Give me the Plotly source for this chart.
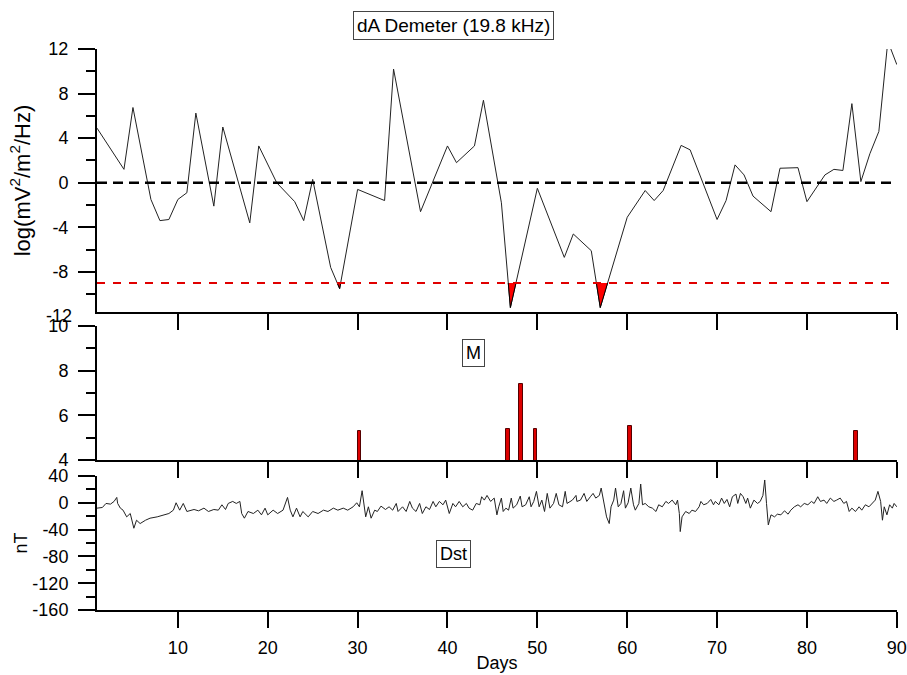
import plotly.graph_objects as go

# ---------------- data ----------------
da_days = [1, 4, 5, 7, 8, 9, 10, 11, 12, 14, 15, 18, 19, 21, 23, 24, 25, 27, 28, 30,
           33, 34, 37, 40, 41, 43, 44, 46, 47, 50, 53, 54, 56, 57, 60, 62, 63, 64, 66, 67,
           70, 71, 72, 73, 74, 76, 77, 79, 80, 82, 83, 84, 85, 86, 87, 88, 89, 90]
da_vals = [4.9, 1.2, 6.75, -1.5, -3.4, -3.3, -1.5, -0.9, 6.25, -2.1, 5.0, -3.6, 3.3, 0.0, -1.7, -3.4, 0.3, -7.6, -9.5, -0.6,
           -1.6, 10.2, -2.6, 3.3, 1.8, 3.3, 7.4, -1.8, -11.2, -0.5, -6.7, -4.6, -6.1, -11.2, -3.1, -0.7, -1.6, -0.7, 3.35, 2.95,
           -3.3, -1.6, 1.6, 0.7, -1.2, -2.6, 1.3, 1.35, -1.7, 0.7, 1.2, 1.1, 7.1, 0.1, 2.6, 4.6, 12.7, 10.6]
zero_level = 0
threshold = -9

m_days = [30.2, 46.7, 48.2, 49.8, 60.3, 85.5]
m_vals = [5.3, 5.4, 7.4, 5.4, 5.5, 5.3]

dst_days = [1.0, 1.6, 2.0, 2.5, 2.9, 3.2, 3.3, 3.6, 3.9, 4.3, 4.7, 5.1, 5.4, 5.8, 6.4, 6.9, 7.7, 8.4, 9.0, 9.5,
            9.8, 10.2, 10.6, 11.0, 11.8, 12.3, 12.9, 13.4, 14.0, 14.5, 14.9, 15.3, 15.6, 16.1, 16.5, 16.9, 17.1, 17.4, 17.8, 18.4,
            18.9, 19.3, 19.7, 20.0, 20.6, 21.1, 21.7, 22.2, 22.5, 22.8, 23.2, 23.6, 23.9, 24.5, 25.0, 25.6, 26.2, 26.7, 27.3, 27.8,
            28.4, 28.9, 29.5, 29.9, 30.2, 30.5, 30.7, 30.9, 31.2, 31.5, 31.9, 32.2, 32.6, 33.1, 33.5, 33.9, 34.3, 34.5, 35.0, 35.4,
            35.8, 36.1, 36.5, 36.9, 37.2, 37.6, 38.0, 38.4, 38.7, 39.1, 39.5, 39.8, 40.2, 40.6, 40.9, 41.3, 41.7, 42.1, 42.4, 42.8,
            43.2, 43.6, 43.8, 44.1, 44.4, 44.8, 45.2, 45.5, 45.7, 46.0, 46.2, 46.5, 46.8, 47.1, 47.3, 47.7, 48.1, 48.3, 48.7, 49.1,
            49.3, 49.6, 49.9, 50.2, 50.5, 50.8, 51.1, 51.4, 51.8, 52.1, 52.4, 52.8, 53.1, 53.3, 53.9, 54.3, 54.4, 54.8, 55.2, 55.5,
            55.9, 56.2, 56.5, 56.9, 57.1, 57.4, 57.7, 58.0, 58.2, 58.5, 58.7, 59.0, 59.3, 59.6, 59.8, 60.1, 60.4, 60.7, 60.9, 61.3,
            61.5, 61.7, 62.0, 62.4, 62.8, 63.2, 63.5, 63.9, 64.3, 64.6, 65.0, 65.4, 65.6, 65.8, 65.9, 66.1, 66.5, 66.9, 67.2, 67.6,
            68.0, 68.2, 68.5, 68.9, 69.3, 69.6, 69.8, 70.2, 70.5, 70.8, 71.1, 71.4, 71.7, 72.1, 72.3, 72.6, 72.9, 73.2, 73.4, 73.7,
            74.1, 74.5, 74.8, 75.1, 75.3, 75.5, 75.7, 76.0, 76.4, 76.7, 77.1, 77.5, 77.9, 78.2, 78.6, 79.0, 79.3, 79.7, 80.1, 80.5,
            80.8, 81.2, 81.5, 81.9, 82.2, 82.6, 83.0, 83.3, 83.7, 84.1, 84.4, 84.7, 85.0, 85.4, 85.8, 86.1, 86.5, 86.9, 87.2, 87.6,
            87.9, 88.2, 88.4, 88.6, 88.9, 89.2, 89.5, 89.7, 90.0]
dst_vals = [-8, -7, -1, -2, 2, 8, -1, -8, -11, -21, -16, -38, -26, -31, -26, -23, -21, -18, -16, -11,
            0, -11, -1, -13, -10, -12, -8, -13, -10, -11, -3, -10, -1, 2, -1, 2, -16, -23, -13, -16,
            -11, -18, -8, -18, -11, -16, -11, 8, -11, -21, -8, -21, -13, -21, -13, -16, -11, -13, -8, -11,
            -8, -11, -6, 0, -6, 18, -1, -21, -6, -23, -11, -13, -5, -10, -6, -11, -1, -13, -6, -13,
            2, -8, -13, -1, -16, -6, -10, 2, -6, 2, -3, 4, -16, -1, -6, 2, -6, -1, -8, -11,
            -1, -3, 9, 4, 11, 2, 7, -18, -6, 7, -13, -8, -11, 7, -8, -3, 10, -6, -3, 9,
            -6, 2, 17, -6, 4, -13, 14, -8, -1, 14, -3, -6, 17, -1, 4, 11, 2, 4, 14, 2,
            9, 14, 7, 11, 22, -1, -21, -31, -6, 4, 22, -6, -1, 18, -8, 0, 22, -3, -11, -1,
            28, -3, -1, -6, -8, -13, -3, -6, 2, -1, 4, -3, 4, -16, -43, -21, -13, -16, -11, -13,
            -6, 2, -3, -1, 5, -3, 2, -3, 7, -1, 5, -6, 9, 13, -1, 14, 9, -1, 7, -8,
            4, -1, 2, 11, 34, -1, -33, -18, -21, -17, -18, -12, -17, -11, -6, -3, -6, -1, -3, 2,
            -1, 9, 2, 4, -1, 7, 2, 4, 7, -1, 2, -13, -8, -13, -6, -11, -3, -6, -1, 4,
            17, 2, -26, -6, -18, -3, -8, -1, -6]

x_range = [1, 90.02]
x_ticks = [10, 20, 30, 40, 50, 60, 70, 80, 90]
da_range = [-11.6, 12]
da_ticks = [12, 8, 4, 0, -4, -8]
da_low_label = -12
m_range = [4, 10]
m_ticks = [10, 8, 6, 4]
dst_range = [-160, 40]
dst_ticks = [40, 0, -40, -80, -120, -160]

FONT = "Liberation Sans, Arial, sans-serif"

# panel domains
top_dom = [0.5312, 1.0]
mid_dom = [0.2674, 0.5062]
bot_dom = [0.0, 0.2389]


def top_frac(v):
    return top_dom[0] + (top_dom[1] - top_dom[0]) * (v - da_range[0]) / (da_range[1] - da_range[0])


clip_top = top_frac(threshold)

fig = go.Figure()

# red fill below threshold (clipped subplot covering only values below threshold)
fig.add_trace(go.Scatter(x=da_days, y=da_vals, mode="lines", fill="tozeroy",
                         fillcolor="#ff0000", line=dict(width=0, color="#ff0000"),
                         xaxis="x4", yaxis="y4", hoverinfo="skip", showlegend=False))
fig.add_trace(go.Scatter(x=da_days, y=da_vals, mode="lines",
                         line=dict(width=1, color="black"),
                         xaxis="x4", yaxis="y4", hoverinfo="skip", showlegend=False))

fig.add_trace(go.Scatter(x=da_days, y=da_vals, mode="lines",
                         line=dict(width=1, color="#222222"),
                         xaxis="x", yaxis="y", showlegend=False))

fig.add_trace(go.Bar(x=m_days, y=m_vals, width=0.42,
                     marker=dict(color="#dd0000", line=dict(color="#550000", width=1)),
                     xaxis="x2", yaxis="y2", showlegend=False))

fig.add_trace(go.Scatter(x=dst_days, y=dst_vals, mode="lines",
                         line=dict(width=1, color="#222222"),
                         xaxis="x3", yaxis="y3", showlegend=False))


def labels(vals):
    return [str(v) for v in vals]


xcommon = dict(range=x_range, tickmode="array", tickvals=x_ticks, ticktext=labels(x_ticks),
               ticks="outside", ticklen=16, tickwidth=2,
               tickcolor="black", showline=True, linewidth=2, linecolor="black", automargin=False,
               showgrid=False, zeroline=False, tickfont=dict(size=18, color="black", family=FONT))
ycommon = dict(ticks="outside", ticklen=17, tickwidth=2, tickcolor="black", automargin=False,
               showline=True, linewidth=2, linecolor="black", showgrid=False, zeroline=False,
               tickfont=dict(size=18, color="black", family=FONT), ticklabelstandoff=6)
minor_common = dict(ticks="outside", ticklen=9, tickwidth=2, tickcolor="black")

fig.update_layout(
    width=907, height=675,
    margin=dict(l=97, r=10, t=49, b=65),
    paper_bgcolor="white", plot_bgcolor="rgba(0,0,0,0)",
    font=dict(family=FONT, size=18, color="black"),
    bargap=0,
    xaxis=dict(xcommon, anchor="y", showticklabels=False),
    xaxis2=dict(xcommon, anchor="y2", showticklabels=False),
    xaxis3=dict(xcommon, anchor="y3", ticklabelstandoff=4,
                title=dict(text="Days", standoff=0, font=dict(size=18, family=FONT))),
    xaxis4=dict(range=x_range, anchor="y4", visible=False),
    yaxis=dict(ycommon, domain=top_dom, range=da_range,
               tickmode="array", tickvals=da_ticks, ticktext=labels(da_ticks),
               minor=dict(minor_common, tickmode="linear", dtick=2, tick0=0),
               title=dict(text="log(mV<sup>2</sup>/m<sup>2</sup>/Hz)", standoff=12,
                          font=dict(size=22, family=FONT))),
    yaxis4=dict(domain=[top_dom[0], clip_top], range=[da_range[0], threshold], visible=False),
    yaxis2=dict(ycommon, domain=mid_dom, range=m_range,
                tickmode="array", tickvals=m_ticks, ticktext=labels(m_ticks),
                minor=dict(minor_common, tickmode="linear", dtick=1, tick0=0)),
    yaxis3=dict(ycommon, domain=bot_dom, range=dst_range,
                tickmode="array", tickvals=dst_ticks, ticktext=labels(dst_ticks),
                minor=dict(minor_common, tickmode="linear", dtick=20, tick0=0),
                title=dict(text="nT", standoff=0, font=dict(size=18, family=FONT))),
)

fig.add_shape(type="line", xref="x domain", yref="y", x0=0, x1=0.995, y0=zero_level, y1=zero_level,
              line=dict(color="black", width=2.5, dash="10px,6px"))
fig.add_shape(type="line", xref="x domain", yref="y", x0=0, x1=0.995, y0=threshold, y1=threshold,
              line=dict(color="#e00000", width=2, dash="8px,8px"))

# lowest tick label of the top panel (sits just below the axis end)
fig.add_annotation(text=str(da_low_label), xref="paper", x=0, xanchor="right", xshift=-23,
                   yref="paper", y=top_frac(da_low_label), yanchor="middle", showarrow=False,
                   font=dict(size=18, family=FONT, color="black"))

box = dict(showarrow=False, bordercolor="#444444", borderwidth=1, borderpad=3, bgcolor="white",
           xanchor="center", yanchor="middle",
           font=dict(size=18, family=FONT, color="black"), xref="paper", yref="paper")
fig.add_annotation(box, text="dA Demeter (19.8 kHz)", x=0.445, y=1.041, font=dict(size=19, family=FONT, color="black"))
fig.add_annotation(box, text="M", x=0.471, y=0.458)
fig.add_annotation(box, text="Dst", x=0.445, y=0.0998)

fig.write_html("out.html", config={"displayModeBar": False},
               post_script="document.body.style.margin='0';")
